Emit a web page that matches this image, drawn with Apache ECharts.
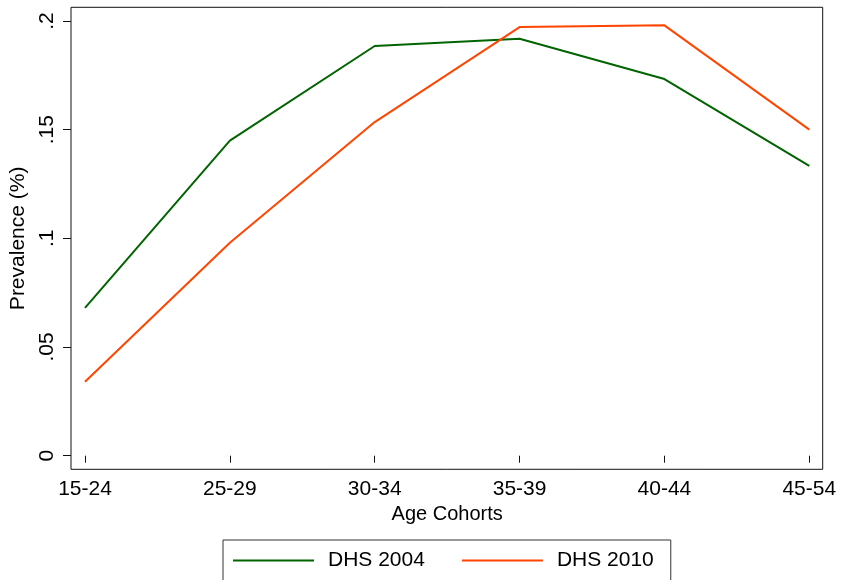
<!DOCTYPE html>
<html>
<head>
<meta charset="utf-8">
<script src="https://cdn.jsdelivr.net/npm/echarts@6/dist/echarts.min.js"></script>
<style>html,body{margin:0;padding:0;background:#fff}#c{width:841px;height:580px}</style>
</head>
<body>
<div id="c"></div>
<script>
var categories = ['15-24', '25-29', '30-34', '35-39', '40-44', '45-54'];
var dhs2004 = [0.068, 0.145, 0.1885, 0.1918, 0.1733, 0.1333];
var dhs2010 = [0.034, 0.098, 0.1535, 0.1972, 0.198, 0.150];
var yTickValues = [0, 0.05, 0.1, 0.15, 0.2];
var yTickLabels = ['0', '.05', '.1', '.15', '.2'];
var seriesNames = ['DHS 2004', 'DHS 2010'];

var FONT = '"Liberation Sans", Arial, Helvetica, sans-serif';
var chart = echarts.init(document.getElementById('c'), null, {renderer: 'canvas'});
chart.setOption({
  backgroundColor: '#fff',
  animation: false,
  textStyle: {fontFamily: FONT},
  grid: [
    {left: 85, right: 31.7, top: 21, bottom: 124.3, containLabel: false},
    {left: 71, right: 18.3, top: 7.3, bottom: 110.7, show: true, borderColor: '#111', borderWidth: 1, backgroundColor: 'transparent'}
  ],
  xAxis: [
    {
      type: 'category', data: categories, gridIndex: 0, boundaryGap: false,
      offset: 13.6,
      axisLine: {show: false},
      axisTick: {show: true, length: 7, alignWithLabel: true, lineStyle: {color: '#111', width: 1}},
      axisLabel: {color: '#000', fontSize: 21, fontFamily: FONT, margin: 9},
      splitLine: {show: false},
      name: 'Age Cohorts', nameLocation: 'middle', nameGap: 35,
      nameTextStyle: {color: '#000', fontSize: 20, fontFamily: FONT}
    },
    {type: 'value', gridIndex: 1, show: false}
  ],
  yAxis: [
    {
      type: 'value', gridIndex: 0, min: 0, max: 0.2, interval: 0.05,
      offset: 14,
      axisLine: {show: false},
      axisTick: {show: true, length: 8, lineStyle: {color: '#111', width: 1}},
      axisLabel: {
        color: '#000', fontSize: 21, fontFamily: FONT, rotate: 90, margin: 13,
        formatter: function (v) {
          for (var i = 0; i < yTickValues.length; i++) {
            if (Math.abs(v - yTickValues[i]) < 1e-9) return yTickLabels[i];
          }
          return '';
        }
      },
      splitLine: {show: false},
      name: 'Prevalence (%)', nameLocation: 'middle', nameGap: 38,
      nameTextStyle: {color: '#000', fontSize: 21, fontFamily: FONT}
    },
    {type: 'value', gridIndex: 1, show: false}
  ],
  legend: {
    left: 223, top: 540,
    padding: [10, 17, 10, 10],
    borderColor: '#333', borderWidth: 1,
    icon: 'rect',
    itemWidth: 81, itemHeight: 2, itemGap: 37,
    textStyle: {color: '#000', fontSize: 21, fontFamily: FONT, padding: [0, 0, 0, 9]},
    data: seriesNames
  },
  series: [
    {
      name: seriesNames[0], type: 'line', data: dhs2004, xAxisIndex: 0, yAxisIndex: 0,
      symbol: 'none', lineStyle: {color: '#006400', width: 2}, itemStyle: {color: '#006400'}
    },
    {
      name: seriesNames[1], type: 'line', data: dhs2010, xAxisIndex: 0, yAxisIndex: 0,
      symbol: 'none', lineStyle: {color: '#ff4500', width: 2}, itemStyle: {color: '#ff4500'}
    }
  ]
});
</script>
</body>
</html>
